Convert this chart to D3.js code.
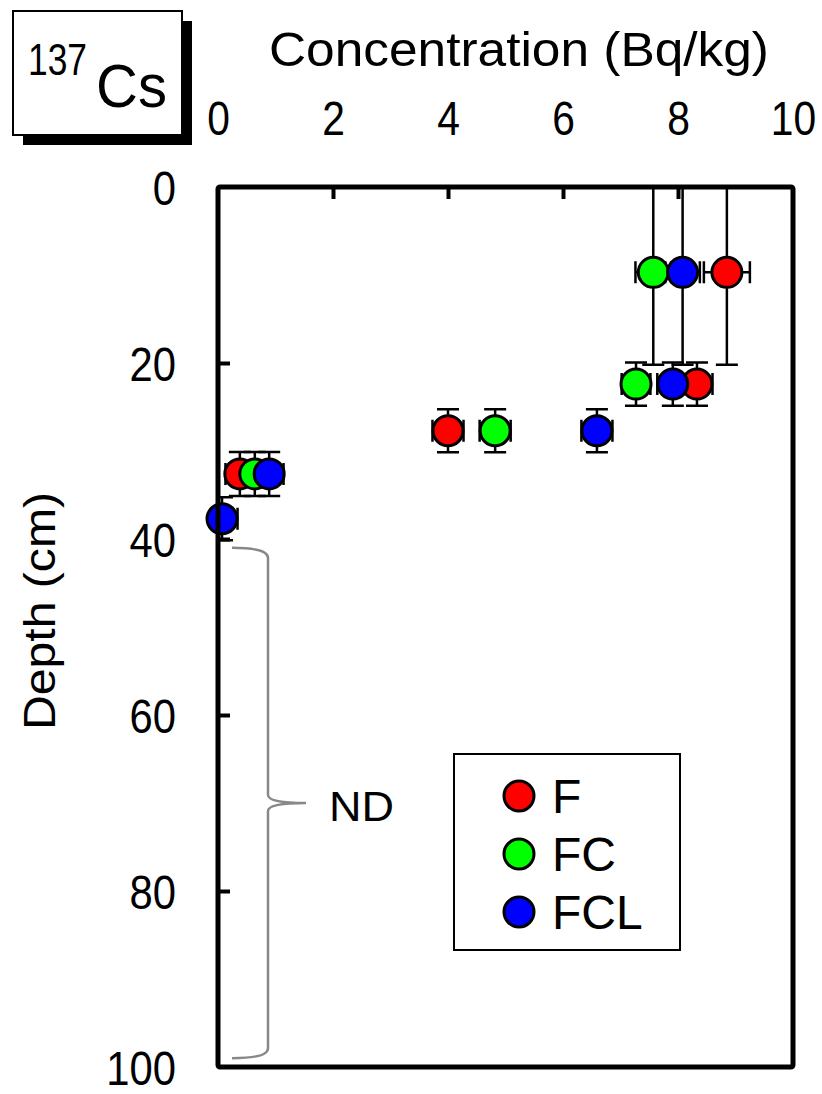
<!DOCTYPE html>
<html>
<head>
<meta charset="utf-8">
<script src="https://cdn.jsdelivr.net/npm/d3@7"></script>
<style>
  body { margin: 0; background: #fff; }
  svg text { font-family: "Liberation Sans Narrow", "Liberation Sans", Arial, sans-serif; fill: #000; }
</style>
</head>
<body>
<svg width="822" height="1094"></svg>
<script>
// data
const seriesNames = ['F', 'FC', 'FCL'];
const seriesColors = ['#ff0000', '#00ff00', '#0000ff'];

const depthF = [9.7, 22.4, 27.7, 32.6];
const depthErrF = [10.5, 2.45, 2.45, 2.5];
const concF = [8.85, 8.33, 4.0, 0.38];
const concErrF = [0.4, 0.27, 0.27, 0.25];

const depthFC = [9.7, 22.4, 27.7, 32.6];
const depthErrFC = [10.5, 2.45, 2.45, 2.5];
const concFC = [7.57, 7.27, 4.82, 0.64];
const concErrFC = [0.31, 0.25, 0.27, 0.25];

const depthFCL = [9.7, 22.4, 27.7, 32.6, 37.7];
const depthErrFCL = [10.5, 2.45, 2.45, 2.5, 2.45];
const concFCL = [8.08, 7.91, 6.59, 0.89, 0.07];
const concErrFCL = [0.3, 0.27, 0.27, 0.25, 0.27];

const xTicks = [0, 2, 4, 6, 8, 10];
const yTicks = [0, 20, 40, 60, 80, 100];
const ndRange = [41, 99];

const svg = d3.select('svg');

const x = d3.scaleLinear().domain([0, 10]).range([218, 793]);
const y = d3.scaleLinear().domain([0, 100]).range([187, 1067]);

const series = [
  {name: 'F', conc: concF, cErr: concErrF, depth: depthF, dErr: depthErrF},
  {name: 'FC', conc: concFC, cErr: concErrFC, depth: depthFC, dErr: depthErrFC},
  {name: 'FCL', conc: concFCL, cErr: concErrFCL, depth: depthFCL, dErr: depthErrFCL}
];
const color = d3.scaleOrdinal().domain(seriesNames).range(seriesColors);

// clip for the error bars
svg.append('clipPath').attr('id', 'plot')
  .append('rect').attr('x', 218).attr('y', 187).attr('width', 575).attr('height', 880);

// title box with shadow
svg.append('rect').attr('x', 23).attr('y', 21).attr('width', 169).attr('height', 124).attr('fill', '#000');
svg.append('rect').attr('x', 13).attr('y', 11).attr('width', 169).attr('height', 124)
  .attr('fill', '#fff').attr('stroke', '#000').attr('stroke-width', 2);
svg.append('text').attr('x', 28).attr('y', 75).attr('font-size', 44)
  .attr('textLength', 59).attr('lengthAdjust', 'spacingAndGlyphs').text('137');
svg.append('text').attr('x', 96).attr('y', 107).attr('font-size', 62)
  .attr('textLength', 71).attr('lengthAdjust', 'spacingAndGlyphs').text('Cs');

// axis titles
svg.append('text').attr('x', 519).attr('y', 66).attr('font-size', 48)
  .attr('text-anchor', 'middle').attr('textLength', 500).attr('lengthAdjust', 'spacingAndGlyphs')
  .text('Concentration (Bq/kg)');
svg.append('text').attr('transform', 'translate(55,611) rotate(-90)').attr('font-size', 44)
  .attr('text-anchor', 'middle').attr('textLength', 238).attr('lengthAdjust', 'spacingAndGlyphs')
  .text('Depth (cm)');

// tick labels
const topAxis = svg.append('g').attr('transform', 'translate(0,138)')
  .call(d3.axisTop(x).tickValues(xTicks).tickSize(0));
topAxis.select('.domain').remove();
topAxis.selectAll('text').attr('font-size', 48).attr('font-family', null)
  .attr('transform', 'scale(0.85,1)');

const leftAxis = svg.append('g').attr('transform', 'translate(176,0)')
  .call(d3.axisLeft(y).tickValues(yTicks).tickSize(0).tickPadding(0));
leftAxis.select('.domain').remove();
leftAxis.selectAll('text').attr('font-size', 48).attr('font-family', null).attr('dy', '0.36em')
  .attr('transform', 'scale(0.87,1)');

// inner ticks
const topTicks = svg.append('g').attr('transform', 'translate(0,187)')
  .call(d3.axisTop(x).tickValues([2, 4, 6, 8]).tickSize(-12).tickFormat(''));
topTicks.select('.domain').remove();
topTicks.selectAll('line').attr('stroke', '#000').attr('stroke-width', 4);

const leftTicks = svg.append('g').attr('transform', 'translate(218,0)')
  .call(d3.axisLeft(y).tickValues([20, 40, 60, 80]).tickSize(-12).tickFormat(''));
leftTicks.select('.domain').remove();
leftTicks.selectAll('line').attr('stroke', '#000').attr('stroke-width', 4);

// error bars
const capW = 11;
const errG = svg.append('g').attr('clip-path', 'url(#plot)')
  .attr('stroke', '#000').attr('stroke-width', 2.5).attr('fill', 'none');
series.forEach(s => {
  s.conc.forEach((c, i) => {
    const cx = x(c), cy = y(s.depth[i]);
    const y0 = y(s.depth[i] - s.dErr[i]), y1 = y(s.depth[i] + s.dErr[i]);
    const x0 = x(c - s.cErr[i]), x1 = x(c + s.cErr[i]);
    errG.append('path').attr('d',
      `M${cx},${y0}V${y1}M${cx - capW},${y0}H${cx + capW}M${cx - capW},${y1}H${cx + capW}` +
      `M${x0},${cy}H${x1}M${x0},${cy - capW}V${cy + capW}M${x1},${cy - capW}V${cy + capW}`);
  });
});

// markers
series.forEach(s => {
  svg.append('g').selectAll('circle')
    .data(s.conc.map((c, i) => ({c: c, d: s.depth[i]})))
    .join('circle')
    .attr('cx', d => x(d.c)).attr('cy', d => y(d.d)).attr('r', 15)
    .attr('fill', color(s.name)).attr('stroke', '#000').attr('stroke-width', 3);
});

// frame
svg.append('rect').attr('x', 218).attr('y', 187).attr('width', 575).attr('height', 880)
  .attr('fill', 'none').attr('stroke', '#000').attr('stroke-width', 5).attr('rx', 2);

// ND brace
const bTop = y(ndRange[0]), bBot = y(ndRange[1]), bMid = y((ndRange[0] + ndRange[1]) / 2);
const bx0 = 232, bx1 = 268, bx2 = 306;
svg.append('path')
  .attr('d', `M${bx0},${bTop} Q${bx1},${bTop} ${bx1},${bTop + 10} V${bMid - 8} Q${bx1},${bMid} ${bx2},${bMid}` +
    ` Q${bx1},${bMid} ${bx1},${bMid + 8} V${bBot - 10} Q${bx1},${bBot} ${bx0},${bBot}`)
  .attr('fill', 'none').attr('stroke', '#888').attr('stroke-width', 2.5);
svg.append('text').attr('x', 329).attr('y', bMid + 18).attr('font-size', 42)
  .attr('textLength', 65).attr('lengthAdjust', 'spacingAndGlyphs').text('ND');

// legend
svg.append('rect').attr('x', 454).attr('y', 754).attr('width', 226).attr('height', 196)
  .attr('fill', '#fff').attr('stroke', '#000').attr('stroke-width', 2);
const leg = svg.append('g').selectAll('g').data(seriesNames).join('g')
  .attr('transform', (d, i) => `translate(519,${796 + i * 58})`);
leg.append('circle').attr('r', 15).attr('fill', d => color(d)).attr('stroke', '#000').attr('stroke-width', 3);
leg.append('text').attr('x', 33).attr('y', 17).attr('font-size', 48).text(d => d);
</script>
</body>
</html>
